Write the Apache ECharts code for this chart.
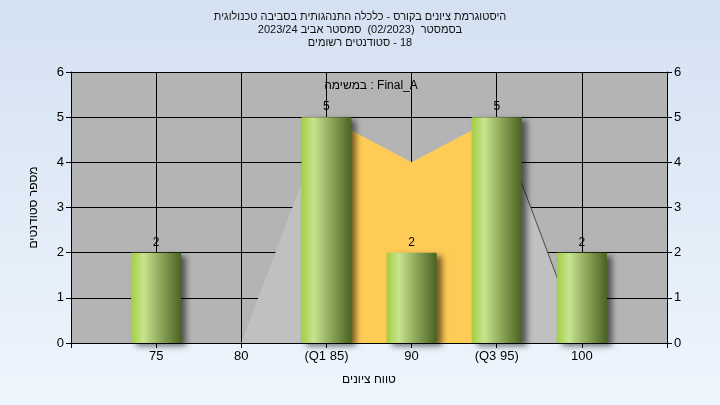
<!DOCTYPE html>
<html>
<head>
<meta charset="utf-8">
<script src="https://cdn.jsdelivr.net/npm/echarts@6/dist/echarts.min.js"></script>
<style>
html,body{margin:0;padding:0;}
#chart{width:720px;height:405px;}
</style>
</head>
<body>
<div id="chart"></div>
<script>
// ---- data ----
const titleLine1 = 'היסטוגרמת ציונים בקורס - כלכלה התנהגותית בסביבה טכנולוגית';
const titleLine2 = 'בסמסטר  (02/2023)  סמסטר אביב 2023/24';
const registeredText = 'סטודנטים רשומים';
const registeredCount = 18;
const seriesLabel = 'במשימה : Final_A';
const xAxisName = 'טווח ציונים';
const yAxisName = 'מספר סטודנטים';

const grades = [75, 80, 85, 90, 95, 100];
const counts = [2, 0, 5, 2, 5, 2];

const xTickValues = [75, 80, 85, 90, 95, 100];
const xTickLabels = ['75', '80', '(Q1 85)', '90', '(Q3 95)', '100'];

const curveX = [80, 85, 90, 95, 100];
const curveY = [0, 5, 4, 5, 0];

const iqrX = [85, 90, 95];
const iqrY = [5, 4, 5];

const edgeX = [95, 100];
const edgeY = [5, 0];

// ---- chart ----
const FONT = "'Liberation Sans', 'DejaVu Sans', Arial, sans-serif";
const zip = (a, b) => a.map((v, i) => [v, b[i]]);

const chart = echarts.init(document.getElementById('chart'), null, {renderer: 'canvas'});

const yAxisCommon = {
  type: 'value', min: 0, max: 6, interval: 1,
  axisLine: {show: true, lineStyle: {color: '#000', width: 1}},
  axisTick: {show: true, length: 5, lineStyle: {color: '#000'}},
  axisLabel: {color: '#000', fontSize: 13, fontFamily: FONT, margin: 7},
  splitLine: {show: false}
};

const titleStyle = {fontSize: 11, color: '#111', fontFamily: FONT, lineHeight: 13};

chart.setOption({
  animation: false,
  backgroundColor: {
    type: 'linear', x: 0, y: 0, x2: 0, y2: 1,
    colorStops: [{offset: 0, color: '#d4e1f2'}, {offset: 1, color: '#eef6fd'}]
  },
  title: {
    text: titleLine1 + '\n' + titleLine2 + '\n{h|' + registeredText + '}{n| - ' + registeredCount + '}',
    left: 'center', top: 5,
    textStyle: Object.assign({fontWeight: 'normal', rich: {h: titleStyle, n: titleStyle}}, titleStyle)
  },
  graphic: [{
    type: 'text', x: 371, y: 86,
    style: {text: seriesLabel, fill: '#000', font: '12px ' + FONT, textAlign: 'center', textVerticalAlign: 'middle'},
    z: 100
  }],
  grid: {
    left: 71, right: 53, top: 72, bottom: 62,
    show: true, backgroundColor: '#b4b4b4', borderWidth: 0
  },
  xAxis: {
    type: 'value', min: 70, max: 105, interval: 5,
    name: xAxisName, nameLocation: 'middle', nameGap: 31,
    nameTextStyle: {color: '#000', fontSize: 12, fontFamily: FONT},
    axisLine: {show: true, onZero: false, lineStyle: {color: '#000', width: 1}},
    axisTick: {show: true, length: 5, lineStyle: {color: '#000'}},
    axisLabel: {
      color: '#000', fontSize: 13, fontFamily: FONT, margin: 7,
      showMinLabel: true, showMaxLabel: true,
      formatter: v => { const i = xTickValues.indexOf(v); return i >= 0 ? xTickLabels[i] : ''; }
    },
    splitLine: {show: true, lineStyle: {color: '#000', width: 1}}
  },
  yAxis: [
    Object.assign({}, yAxisCommon, {
      position: 'left',
      name: yAxisName, nameLocation: 'middle', nameGap: 31,
      nameTextStyle: {color: '#000', fontSize: 12, fontFamily: FONT},
      splitLine: {show: true, lineStyle: {color: '#000', width: 1}}
    }),
    Object.assign({}, yAxisCommon, {position: 'right'})
  ],
  series: [
    {
      type: 'line', data: zip(curveX, curveY), symbol: 'none',
      lineStyle: {width: 0}, areaStyle: {color: '#c0c0c0', opacity: 1}, z: 1, silent: true
    },
    {
      type: 'line', data: zip(iqrX, iqrY), symbol: 'none',
      lineStyle: {width: 0}, areaStyle: {color: '#ffcb57', opacity: 1}, z: 2, silent: true
    },
    {
      type: 'line', data: zip(edgeX, edgeY), symbol: 'none',
      lineStyle: {width: 1, color: '#4a4a4a'}, z: 3, silent: true
    },
    {
      type: 'bar', data: zip(grades, counts), barWidth: 50, z: 5,
      itemStyle: {
        color: {
          type: 'linear', x: 0, y: 0, x2: 1, y2: 0,
          colorStops: [
            {offset: 0, color: '#a2cf42'},
            {offset: 0.25, color: '#c7e48f'},
            {offset: 0.55, color: '#93ae60'},
            {offset: 1, color: '#4a6322'}
          ]
        },
        shadowColor: 'rgba(0,0,0,0.55)', shadowBlur: 6, shadowOffsetX: 5, shadowOffsetY: 3
      },
      label: {
        show: true, position: 'top', distance: 4, color: '#000', fontSize: 12, fontFamily: FONT,
        formatter: p => p.value[1] > 0 ? String(p.value[1]) : ''
      }
    }
  ]
});
</script>
</body>
</html>
